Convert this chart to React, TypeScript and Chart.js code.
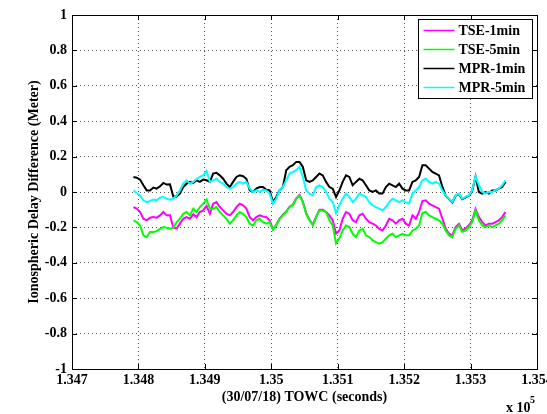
import { useEffect, useRef } from "react";
import { Chart, registerables } from "chart.js";

Chart.register(...registerables);

// Sampling grid of the traces (seconds of week)
const TIME_START = 134792.5;
const TIME_STEP = 5;

// Axis limits and tick spacing
const X_MIN = 134700;
const X_MAX = 135400;
const X_STEP = 100;
const Y_MIN = -1;
const Y_MAX = 1;
const Y_STEP = 0.2;

const SERIES_LABELS = ["TSE-1min", "TSE-5min", "MPR-1min", "MPR-5min"];
const SERIES_COLORS = ["#ff00ff", "#00ff00", "#000000", "#00ffff"];

// Ionospheric delay difference (m)
const TSE_1MIN = [
  -0.085, -0.094, -0.113, -0.151, -0.16, -0.145, -0.142, -0.145, -0.132, -0.113,
  -0.132, -0.132, -0.2, -0.206, -0.179, -0.151, -0.142, -0.151, -0.126, -0.142,
  -0.113, -0.104, -0.079, -0.123, -0.066, -0.057, -0.085, -0.104, -0.123, -0.132,
  -0.113, -0.085, -0.066, -0.075, -0.094, -0.142, -0.16, -0.142, -0.132, -0.138,
  -0.142, -0.16,
  -0.21, -0.185, -0.15, -0.128, -0.11, -0.083, -0.072, -0.036, -0.017, -0.055,
  -0.12, -0.157, -0.185, -0.14, -0.1, -0.1, -0.113, -0.132, -0.16, -0.235,
  -0.217, -0.151, -0.113, -0.123, -0.16, -0.17, -0.132, -0.123, -0.151, -0.17,
  -0.179, -0.189, -0.208, -0.217, -0.189, -0.151, -0.16, -0.179, -0.16, -0.151,
  -0.179, -0.189,
  -0.132, -0.151, -0.113, -0.051, -0.047, -0.066, -0.075, -0.085, -0.094, -0.15,
  -0.207, -0.235, -0.245, -0.198, -0.18, -0.216, -0.207, -0.188, -0.16, -0.095,
  -0.142, -0.17, -0.189, -0.179, -0.179, -0.17, -0.16, -0.142, -0.113,
];

const TSE_5MIN = [
  -0.16, -0.17, -0.189, -0.245, -0.255, -0.226, -0.226, -0.221, -0.208, -0.198,
  -0.202, -0.208, -0.202, -0.17, -0.151, -0.123, -0.113, -0.132, -0.094, -0.113,
  -0.085, -0.066, -0.042, -0.094, -0.094, -0.085, -0.113, -0.132, -0.151, -0.179,
  -0.16, -0.132, -0.113, -0.123, -0.142, -0.179, -0.189, -0.16, -0.151, -0.17,
  -0.179, -0.17,
  -0.213, -0.189, -0.151, -0.132, -0.113, -0.085, -0.075, -0.038, -0.019, -0.057,
  -0.123, -0.16, -0.189, -0.142, -0.104, -0.104, -0.113, -0.16, -0.189, -0.29,
  -0.262, -0.217, -0.189, -0.198, -0.236, -0.255, -0.217, -0.208, -0.245, -0.255,
  -0.274, -0.283, -0.292, -0.283, -0.264, -0.245, -0.236, -0.255, -0.245, -0.236,
  -0.245, -0.245,
  -0.217, -0.208, -0.189, -0.119, -0.113, -0.132, -0.142, -0.151, -0.16, -0.179,
  -0.217, -0.245, -0.255, -0.208, -0.189, -0.226, -0.217, -0.198, -0.17, -0.104,
  -0.16, -0.189, -0.198, -0.189, -0.198, -0.189, -0.179, -0.16, -0.132,
];

const MPR_1MIN = [
  0.085, 0.081, 0.07, 0.038, 0.009, 0.009, 0.025, 0.019, 0.032, 0.051,
  0.042, 0.043, -0.025, -0.025, -0.009, 0.028, 0.047, 0.057, 0.051, 0.066,
  0.057, 0.07, 0.066, 0.057, 0.104, 0.108, 0.094, 0.075, 0.047, 0.028,
  0.057, 0.085, 0.094, 0.089, 0.075, 0.009, 0.0, 0.019, 0.028, 0.028,
  0.013, 0.009,
  -0.057, -0.028, 0.009, 0.028, 0.123, 0.142, 0.151, 0.17, 0.17, 0.142,
  0.066, 0.057, 0.066, 0.085, 0.104, 0.094, 0.057, 0.028, 0.019, -0.028,
  0.009, 0.057, 0.094, 0.085, 0.038, 0.057, 0.075, 0.066, 0.038, 0.009,
  0.0, 0.009, -0.009, -0.009, 0.028, 0.047, 0.038, 0.028, 0.047, 0.019,
  0.009, 0.009,
  0.057, 0.066, 0.085, 0.151, 0.151, 0.132, 0.113, 0.104, 0.094, 0.03,
  -0.021, -0.04, -0.059, -0.021, -0.011, -0.04, -0.03, -0.021, 0.007, 0.087,
  0.0, -0.009, 0.0, -0.009, 0.009, 0.009, 0.019, 0.028, 0.057,
];

const MPR_5MIN = [
  0.009, -0.006, -0.019, -0.047, -0.057, -0.051, -0.043, -0.047, -0.032, -0.028,
  -0.038, -0.043, -0.038, -0.019, 0.009, 0.047, 0.066, 0.047, 0.057, 0.075,
  0.085, 0.094, 0.119, 0.057, 0.066, 0.075, 0.057, 0.047, 0.028, 0.019,
  0.028, 0.047, 0.057, 0.047, 0.057, 0.019, 0.0, 0.009, 0.0, 0.013,
  0.009, -0.009,
  -0.066, -0.038, 0.009, 0.028, 0.066, 0.104, 0.113, 0.123, 0.142, 0.085,
  0.009, -0.009, -0.019, 0.028, 0.038, 0.028, 0.0, -0.038, -0.057, -0.119,
  -0.075, -0.038, -0.009, -0.028, -0.057, -0.038, -0.009, -0.019, -0.028, -0.057,
  -0.075, -0.085, -0.094, -0.104, -0.085, -0.057, -0.038, -0.047, -0.057, -0.047,
  -0.057, -0.066,
  -0.009, 0.009, 0.028, 0.066, 0.075, 0.057, 0.047, 0.057, 0.047, 0.009,
  -0.019, -0.038, -0.057, -0.019, -0.009, -0.038, -0.028, -0.019, 0.009, 0.089,
  0.038, 0.0, -0.009, 0.0, 0.0, 0.009, 0.019, 0.038, 0.066,
];

const SERIES_VALUES = [TSE_1MIN, TSE_5MIN, MPR_1MIN, MPR_5MIN];
// later-listed traces are painted above earlier ones
const SERIES_ORDER = [4, 3, 2, 1];

const FONT_FAMILY = '"Liberation Serif", "Times New Roman", serif';
const BOLD_14 = { family: FONT_FAMILY, size: 14, weight: "bold" as const };

const fmt = (v: number, digits: number) => String(Number(v.toFixed(digits)));

// White page, box frame, inward ticks, legend box and the axis multiplier
const decorations = {
  id: "decorations",
  beforeDraw(chart: any) {
    const { ctx, width, height } = chart;
    ctx.save();
    ctx.fillStyle = "#ffffff";
    ctx.fillRect(0, 0, width, height);
    ctx.restore();
  },
  afterDraw(chart: any) {
    const { ctx, chartArea } = chart;
    const { left, right, top, bottom } = chartArea;
    const xs = chart.scales.x;
    const ys = chart.scales.y;
    const tick = 5;
    ctx.save();
    ctx.strokeStyle = "#000";
    ctx.lineWidth = 1;
    ctx.beginPath();
    xs.ticks.forEach((_t: any, i: number) => {
      const px = Math.round(xs.getPixelForTick(i)) + 0.5;
      ctx.moveTo(px, bottom);
      ctx.lineTo(px, bottom - tick);
      ctx.moveTo(px, top);
      ctx.lineTo(px, top + tick);
    });
    ys.ticks.forEach((_t: any, i: number) => {
      const py = Math.round(ys.getPixelForTick(i)) + 0.5;
      ctx.moveTo(left, py);
      ctx.lineTo(left + tick, py);
      ctx.moveTo(right, py);
      ctx.lineTo(right - tick, py);
    });
    ctx.stroke();
    ctx.strokeRect(Math.round(left) + 0.5, Math.round(top) + 0.5, Math.round(right - left), Math.round(bottom - top));

    // legend
    const lx = 418.5;
    const ly = 19.5;
    const lw = 114;
    const lh = 79;
    ctx.fillStyle = "#fff";
    ctx.fillRect(lx, ly, lw, lh);
    ctx.strokeStyle = "#000";
    ctx.strokeRect(lx, ly, lw, lh);
    ctx.font = `bold 14px ${FONT_FAMILY}`;
    ctx.textBaseline = "middle";
    ctx.textAlign = "left";
    chart.data.datasets.forEach((ds: any, i: number) => {
      const cy = ly + 11 + i * 19;
      ctx.strokeStyle = ds.borderColor;
      ctx.lineWidth = 1.5;
      ctx.beginPath();
      ctx.moveTo(lx + 5, cy);
      ctx.lineTo(lx + 36, cy);
      ctx.stroke();
      ctx.fillStyle = "#000";
      ctx.fillText(ds.label, lx + 40, cy + 1);
    });

    // x-axis multiplier
    ctx.fillStyle = "#000";
    ctx.textBaseline = "alphabetic";
    ctx.font = `bold 14px ${FONT_FAMILY}`;
    ctx.fillText("x 10", 506, 412);
    ctx.font = `bold 10px ${FONT_FAMILY}`;
    ctx.fillText("5", 530, 403);
    ctx.restore();
  },
};

export default function App() {
  const ref = useRef<HTMLCanvasElement>(null);

  useEffect(() => {
    const canvas = ref.current;
    if (!canvas) return;
    const datasets = SERIES_LABELS.map((label, k) => ({
      label,
      data: SERIES_VALUES[k].map((y, i) => ({ x: TIME_START + i * TIME_STEP, y })),
      borderColor: SERIES_COLORS[k],
      backgroundColor: SERIES_COLORS[k],
      borderWidth: 2,
      pointRadius: 0,
      tension: 0,
      fill: false,
      order: SERIES_ORDER[k],
    }));

    const chart = new Chart(canvas, {
      type: "line",
      data: { datasets },
      options: {
        animation: false,
        responsive: false,
        events: [],
        layout: { padding: { top: 15, right: 10, left: 0, bottom: 0 } },
        plugins: { legend: { display: false }, tooltip: { enabled: false } },
        scales: {
          x: {
            type: "linear",
            min: X_MIN,
            max: X_MAX,
            afterFit(scale: any) {
              scale.height = 45;
              scale.paddingLeft = 0;
              scale.paddingRight = 0;
            },
            ticks: {
              stepSize: X_STEP,
              autoSkip: false,
              maxRotation: 0,
              color: "#000",
              font: BOLD_14,
              padding: 3,
              callback: (v: any) => fmt(Number(v) / 1e5, 3),
            },
            grid: { color: "#555", lineWidth: 1, drawTicks: false },
            border: { display: false, dash: [1, 3] },
            title: {
              display: true,
              text: "(30/07/18) TOWC (seconds)",
              color: "#000",
              font: BOLD_14,
              padding: { top: 0, bottom: 8 },
            },
          },
          y: {
            type: "linear",
            min: Y_MIN,
            max: Y_MAX,
            afterFit(scale: any) {
              scale.width = 72;
              scale.paddingTop = 0;
              scale.paddingBottom = 0;
            },
            ticks: {
              stepSize: Y_STEP,
              color: "#000",
              font: BOLD_14,
              padding: 5,
              callback: (v: any) => fmt(Number(v), 1),
            },
            grid: { color: "#555", lineWidth: 1, drawTicks: false },
            border: { display: false, dash: [1, 3] },
            title: {
              display: true,
              text: "Ionospheric Delay Difference (Meter)",
              color: "#000",
              font: BOLD_14,
              padding: { top: 26, bottom: 0 },
            },
          },
        },
      },
      plugins: [decorations],
    } as any);

    return () => chart.destroy();
  }, []);

  return (
    <div style={{ position: "fixed", left: 0, top: 0, width: 547, height: 414, background: "#fff" }}>
      <canvas ref={ref} width={547} height={414} style={{ display: "block" }} />
    </div>
  );
}
